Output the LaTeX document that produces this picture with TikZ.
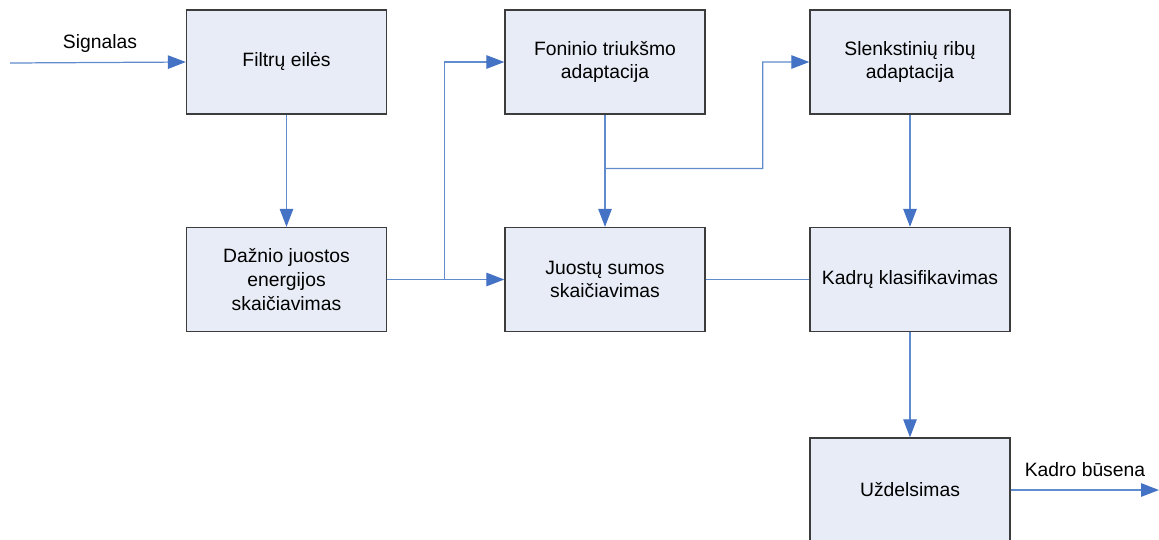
\documentclass[tikz,border=0pt]{standalone}
\usepackage{fontspec}
\setmainfont{Liberation Sans}
\usetikzlibrary{arrows.meta,calc}
\definecolor{boxfill}{RGB}{232,236,246}
\definecolor{boxedge}{RGB}{60,60,60}
\definecolor{wire}{RGB}{96,140,206}
\definecolor{tipblue}{RGB}{68,114,196}
\begin{document}
\begin{tikzpicture}[x=0.02cm,y=-0.02cm,
  font=\fontsize{11}{13.5}\selectfont,
  block/.style={draw=boxedge, fill=boxfill, line width=0.8pt,
    minimum width=4cm, minimum height=2.08cm, align=center, inner sep=0pt},
  wireline/.style={draw=wire, line width=0.7pt},
  arr/.style={wireline, -{Triangle[length=0.36cm,width=0.27cm,fill=tipblue,color=tipblue]}},
  lbl/.style={inner sep=0pt}]
\useasboundingbox (0,0) rectangle (1159,539);

% processing blocks
\node[block] (filt)  at (286.5,62)  {Filtrų eilės};
\node[block] (dazn)  at (286.5,279.5) {Dažnio juostos\\energijos\\skaičiavimas};
\node[block] (fon)   at (605,62)    {Foninio triukšmo\\adaptacija};
\node[block] (juost) at (605,279.5) {Juostų sumos\\skaičiavimas};
\node[block] (slenk) at (910,62)    {Slenkstinių ribų\\adaptacija};
\node[block] (kadr)  at (910,279.5) {Kadrų klasifikavimas};
\node[block] (uzd)   at (910,490)   {Uždelsimas};

% input and output ends
\coordinate (in)  at (10,63);
\coordinate (out) at (1159,490);
\node[lbl] (sig) at (100,43) {Signalas};
\node[lbl] (kb)  at (1085,470) {Kadro būsena};

% connectors
\draw[arr] (in) -- (filt.west);
\draw[arr] (filt.south) -- (dazn.north);
\draw[arr] (dazn.east) -- (juost.west);
\draw[arr] ($(dazn.east)!0.49!(juost.west)$) |- (fon.west);
\draw[arr] (fon.south) -- (juost.north);
\coordinate (tap) at ($(fon.south)!0.48!(juost.north)$);
\coordinate (riser) at ($(fon.east)!0.55!(slenk.west)$);
\draw[arr] (tap) -| (riser) -- (slenk.west);
\draw[arr] (slenk.south) -- (kadr.north);
\draw[wireline] (juost.east) -- (kadr.west);
\draw[arr] (kadr.south) -- (uzd.north);
\draw[arr] (uzd.east) -- (out);
\end{tikzpicture}
\end{document}
